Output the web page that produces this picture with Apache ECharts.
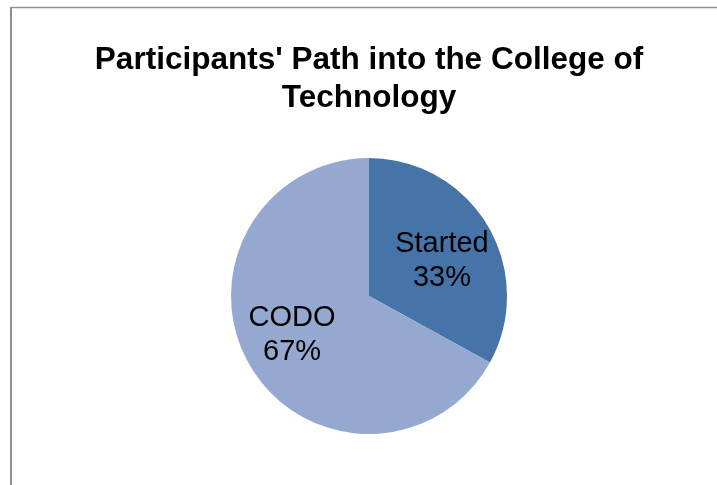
<!DOCTYPE html>
<html>
<head>
<meta charset="utf-8">
<script src="https://cdn.jsdelivr.net/npm/echarts@6/dist/echarts.min.js"></script>
<style>
  html, body { margin: 0; padding: 0; background: #ffffff; }
  #chart { width: 717px; height: 485px; }
</style>
</head>
<body>
<div id="chart"></div>
<script>
// Participants' entry path, share of total (%)
const categories = ['Started', 'CODO'];
const shares = [33, 67];
const sliceColors = ['#4674a9', '#95a9d0'];
const chartTitle = "Participants' Path into the College of\nTechnology";

const chart = echarts.init(document.getElementById('chart'), null, { renderer: 'canvas' });

// nudge each inside label a little (Started right, CODO left, both slightly down)
const labelNudge = { Started: 11, CODO: -15 };

chart.setOption({
  animation: false,
  title: {
    text: chartTitle,
    left: 364,
    textAlign: 'center',
    top: 36,
    textStyle: {
      fontFamily: 'Liberation Sans, Arial, sans-serif',
      fontSize: 31.5,
      fontWeight: 'bold',
      color: '#000000',
      lineHeight: 38
    }
  },
  graphic: [
    { type: 'line', shape: { x1: 11, y1: 7.5, x2: 717, y2: 7.5 }, style: { stroke: '#909090', lineWidth: 1.5 }, silent: true },
    { type: 'line', shape: { x1: 11, y1: 7, x2: 11, y2: 485 }, style: { stroke: '#8c8c8c', lineWidth: 2 }, silent: true }
  ],
  series: [{
    type: 'pie',
    center: [369, 296],
    radius: 138,
    startAngle: 90,
    clockwise: true,
    data: categories.map((name, i) => ({ name, value: shares[i], itemStyle: { color: sliceColors[i] } })),
    label: {
      show: true,
      position: 'inside',
      formatter: p => p.name + '\n' + p.value + '%',
      fontFamily: 'Liberation Sans, Arial, sans-serif',
      fontSize: 29,
      lineHeight: 34,
      color: '#000000'
    },
    labelLine: { show: false },
    labelLayout: params => {
      const name = categories[params.dataIndex];
      return { dx: labelNudge[name] || 0, dy: 2 };
    },
    emphasis: { disabled: true },
    itemStyle: { borderWidth: 0 }
  }]
});
</script>
</body>
</html>
